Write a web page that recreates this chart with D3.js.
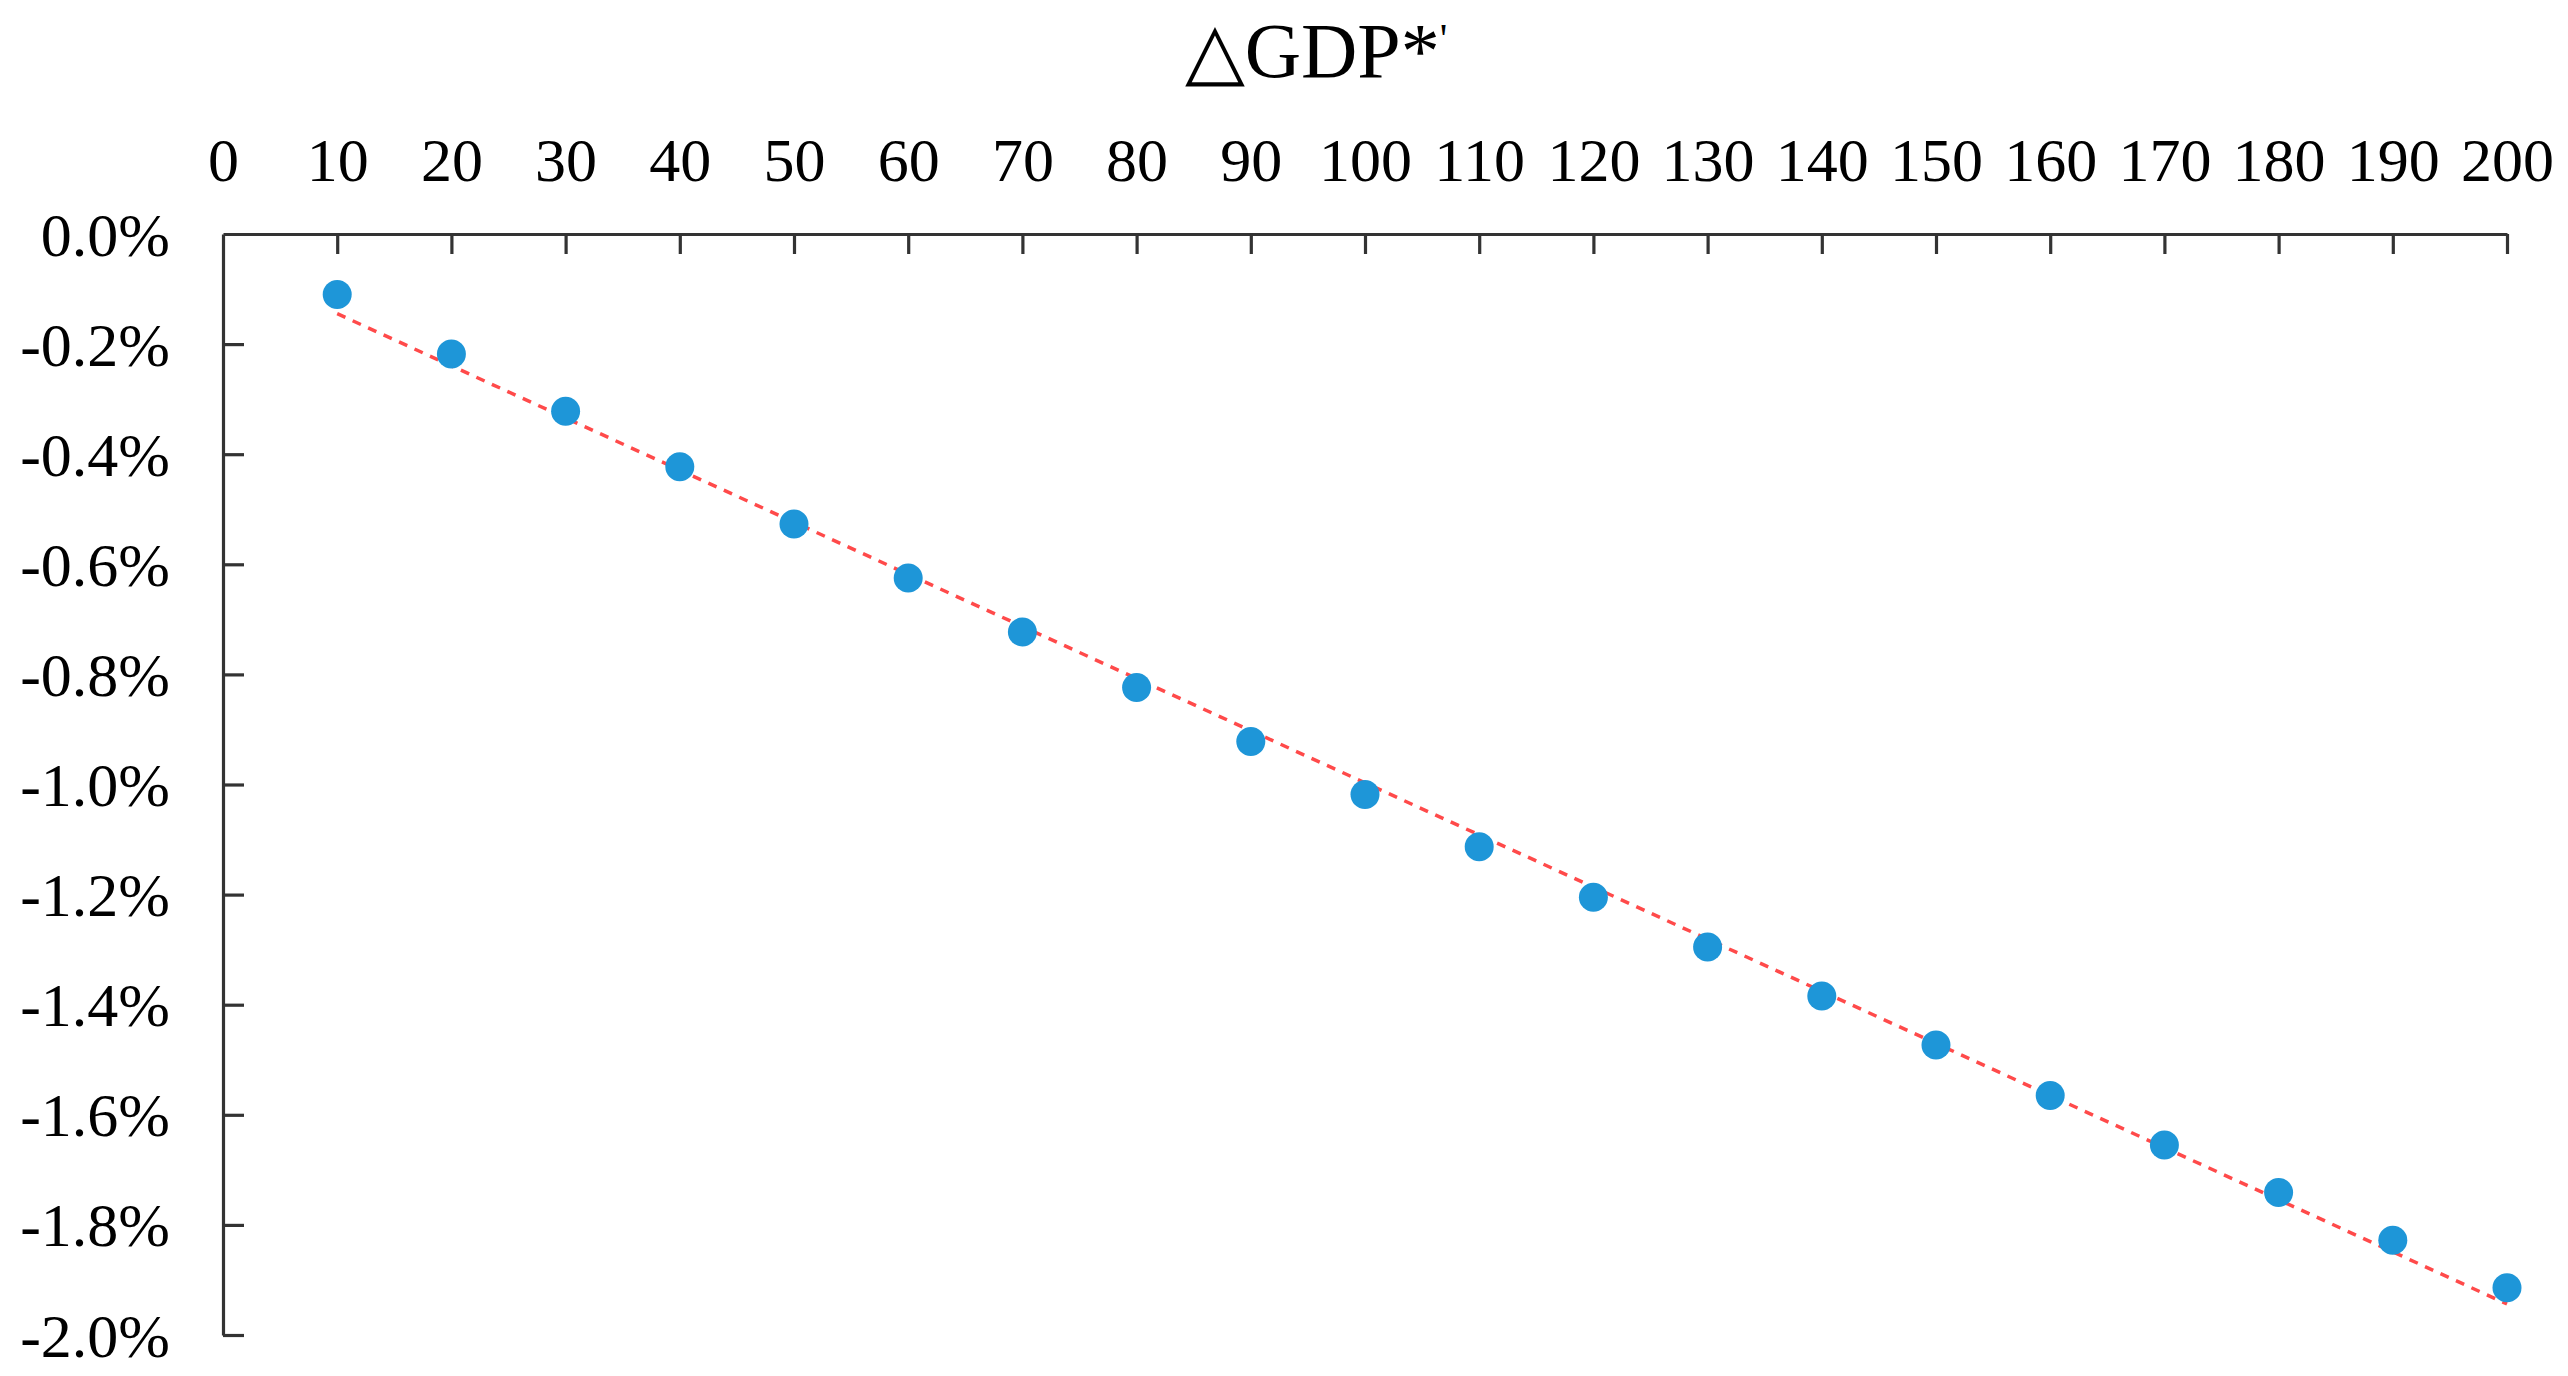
<!DOCTYPE html>
<html>
<head>
<meta charset="utf-8">
<script src="https://cdn.jsdelivr.net/npm/d3@7"></script>
<style>
  html, body { margin: 0; padding: 0; background: #fff; }
  text { font-family: "Liberation Serif", "Times New Roman", serif; fill: #000; }
</style>
</head>
<body>
<div id="chart"></div>
<script>
const width = 2568;
const height = 1376;

// shock size (x) and change in GDP, in percent (y)
const shocks = [10, 20, 30, 40, 50, 60, 70, 80, 90, 100, 110, 120, 130, 140, 150, 160, 170, 180, 190, 200];
const gdpChange = [-0.110, -0.218, -0.322, -0.423, -0.527, -0.625, -0.723, -0.824, -0.922, -1.018,
    -1.113, -1.205, -1.295, -1.384, -1.473, -1.565, -1.655, -1.741, -1.828, -1.914];

const xTicks = d3.range(0, 201, 10);
const yTicks = [0, -0.2, -0.4, -0.6, -0.8, -1.0, -1.2, -1.4, -1.6, -1.8, -2.0];

const margin = {top: 234, right: 61, bottom: 41, left: 223};

const svg = d3.select('#chart')
    .append('svg')
    .attr('width', width)
    .attr('height', height);

const x = d3.scaleLinear()
    .domain([0, 200])
    .range([margin.left, width - margin.right]);

const y = d3.scaleLinear()
    .domain([0, -2.0])
    .range([margin.top, height - margin.bottom]);

// title
const title = svg.append('text')
    .attr('x', 1316)
    .attr('y', 77)
    .attr('text-anchor', 'middle')
    .style('font-size', '78px')
    .text('△GDP*');
title.append('tspan')
    .attr('dy', -24)
    .style('font-size', '42px')
    .text("'");

// top axis
const xAxis = svg.append('g')
    .attr('transform', `translate(0,${margin.top})`)
    .call(d3.axisTop(x).tickValues(xTicks).tickSize(-20).tickSizeOuter(0).tickPadding(53));
xAxis.selectAll('text')
    .style('font-size', '62px')
    .style('font-family', '"Liberation Serif", serif');

// left axis
const yAxis = svg.append('g')
    .attr('transform', `translate(${margin.left},0)`)
    .call(d3.axisLeft(y).tickValues(yTicks).tickSize(-21).tickSizeOuter(0).tickPadding(53)
        .tickFormat(d => d.toFixed(1) + '%'));
yAxis.selectAll('text')
    .style('font-size', '62px')
    .style('font-family', '"Liberation Serif", serif')
    .attr('dy', '0.34em');

svg.selectAll('.domain, .tick line')
    .attr('stroke', '#333')
    .attr('stroke-width', 3.2);
xAxis.selectAll('.tick').filter(d => d === 0).select('line').remove();
yAxis.selectAll('.tick').filter(d => d === 0).select('line').remove();

// linear trend line (least squares)
const mx = d3.mean(shocks);
const my = d3.mean(gdpChange);
const slope = d3.sum(shocks, (d, i) => (d - mx) * (gdpChange[i] - my)) / d3.sum(shocks, d => (d - mx) * (d - mx));
const intercept = my - slope * mx;
const trend = [shocks[0], shocks[shocks.length - 1]].map(d => [d, intercept + slope * d]);

svg.append('path')
    .datum(trend)
    .attr('d', d3.line().x(d => x(d[0])).y(d => y(d[1])))
    .attr('fill', 'none')
    .attr('stroke', '#ff4a4a')
    .attr('stroke-width', 3.5)
    .attr('stroke-dasharray', '9 8');

// points
svg.append('g')
    .selectAll('circle')
    .data(shocks)
    .join('circle')
    .attr('cx', d => x(d))
    .attr('cy', (d, i) => y(gdpChange[i]))
    .attr('r', 14.5)
    .attr('fill', '#1e96d8');
</script>
</body>
</html>
